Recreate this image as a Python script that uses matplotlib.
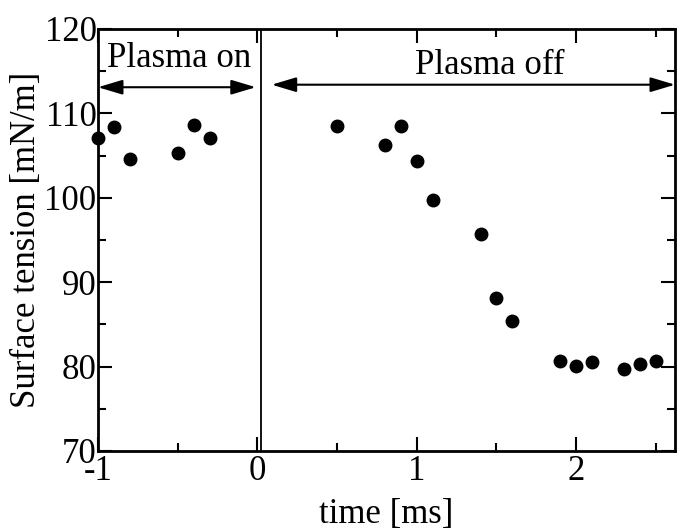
import numpy as np
import matplotlib
matplotlib.use("Agg")
import matplotlib.pyplot as plt
from matplotlib.ticker import MultipleLocator

# data
time_on = [-1.0, -0.9, -0.8, -0.5, -0.4, -0.3]
tension_on = [107.1, 108.4, 104.6, 105.3, 108.6, 107.1]
time_off = [0.5, 0.8, 0.9, 1.0, 1.1, 1.4, 1.5, 1.6, 1.9, 2.0, 2.1, 2.3, 2.4, 2.5]
tension_off = [108.5, 106.3, 108.5, 104.3, 99.7, 95.7, 88.1, 85.4, 80.7, 80.1, 80.6, 79.7, 80.3, 80.7]
x_ticks = [-1, 0, 1, 2]
x_ticklabels = ['-1', '0', '1', '2']
y_ticks = [70, 80, 90, 100, 110, 120]

FONT = 'Liberation Serif'
FS = 25
plt.rcParams['font.family'] = 'serif'
plt.rcParams['font.serif'] = [FONT, 'DejaVu Serif']

fig = plt.figure(figsize=(6.8, 5.31), dpi=100)
ax = fig.add_axes([0.1441, 0.1507, 0.8485, 0.7947])

t = np.array(time_on + time_off)
s = np.array(tension_on + tension_off)
ax.plot(t, s, 'o', color='black', markersize=9, clip_on=False, zorder=5)

# switch-off line
ax.axvline(0.02, color='black', linewidth=1.3)

# arrows + labels
arrow = dict(arrowstyle='<|-|>,head_length=1.0,head_width=0.3', color='black',
             lw=1.5, shrinkA=0, shrinkB=0, mutation_scale=15)
ax.annotate('', xy=(-1.0, 113.1), xytext=(-0.01, 113.1), arrowprops=arrow)
ax.annotate('', xy=(0.09, 113.4), xytext=(2.62, 113.4), arrowprops=arrow,
            annotation_clip=False)
ax.text(-0.49, 115.5, 'Plasma on', ha='center', va='baseline', fontsize=FS, family=FONT)
ax.text(1.46, 114.7, 'Plasma off', ha='center', va='baseline', fontsize=FS, family=FONT)

ax.set_xlim(-1.0, 2.62)
ax.set_ylim(70, 120)
ax.set_xticks(x_ticks)
ax.set_xticklabels(x_ticklabels)
ax.set_yticks(y_ticks)
ax.xaxis.set_minor_locator(MultipleLocator(0.5))
ax.yaxis.set_minor_locator(MultipleLocator(5))
ax.tick_params(which='both', direction='in', top=True, right=True, width=1.5,
               labelsize=FS, colors='black')
ax.tick_params(which='major', length=10)
ax.tick_params(which='minor', length=6)
ax.tick_params(axis='x', pad=3)
ax.tick_params(axis='y', pad=1)
for lab in ax.get_xticklabels() + ax.get_yticklabels():
    lab.set_fontfamily(FONT)
for sp in ax.spines.values():
    sp.set_linewidth(2)

ax.set_xlabel('time [ms]', fontsize=FS, family=FONT, labelpad=7)
ax.set_ylabel('Surface tension [mN/m]', fontsize=FS, family=FONT, labelpad=1)

fig.savefig('out.png', dpi=100)
